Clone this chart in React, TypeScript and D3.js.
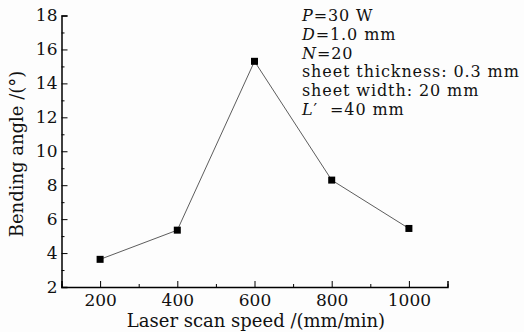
import React, { useEffect, useRef } from "react";
import * as d3 from "d3";

const speeds = [200, 400, 600, 800, 1000];
const angles = [3.63, 5.35, 15.3, 8.3, 5.45];
const xTicks = [200, 400, 600, 800, 1000];
const yTicks = [2, 4, 6, 8, 10, 12, 14, 16, 18];
const notes = [
  { it: "P", rest: "=30 W" },
  { it: "D", rest: "=1.0 mm" },
  { it: "N", rest: "=20" },
  { it: "", rest: "sheet thickness: 0.3 mm" },
  { it: "", rest: "sheet width: 20 mm" },
  { it: "L", rest: "\u2032\u00a0\u00a0=40 mm" },
];

const width = 524;
const height = 332;
const font = "'DejaVu Serif', serif";

export default function App() {
  const gx = useRef<SVGGElement>(null);
  const gy = useRef<SVGGElement>(null);

  const x = d3.scaleLinear([100, 1100], [61.5, 447.5]);
  const y = d3.scaleLinear([2, 18], [287, 15.5]);

  useEffect(() => {
    const ax = d3.select(gx.current);
    ax.selectAll("*").remove();
    ax.call(
      d3.axisBottom(x).tickValues(d3.range(100, 1101, 100)).tickSize(-6).tickPadding(7)
        .tickFormat((d: any) => (xTicks.includes(d) ? String(d) : ""))
    );
    ax.selectAll(".tick line").attr("y2", (d: any) => (xTicks.includes(d) ? -6 : -3));
    ax.select(".domain").attr("stroke-width", 1.5);
    ax.selectAll("text").attr("font-family", font).attr("font-size", 17).attr("fill", "#111");

    const ay = d3.select(gy.current);
    ay.selectAll("*").remove();
    ay.call(
      d3.axisLeft(y).tickValues(d3.range(2, 18.1, 1)).tickSize(-6).tickPadding(4)
        .tickFormat((d: any) => (yTicks.includes(d) ? String(d) : ""))
    );
    ay.selectAll(".tick line").attr("x2", (d: any) => (yTicks.includes(d) ? 6 : 3));
    ay.select(".domain").attr("stroke-width", 1.5);
    ay.selectAll("text").attr("font-family", font).attr("font-size", 17).attr("fill", "#111");
  }, []);

  const line = d3
    .line<number>()
    .x((_, i) => x(speeds[i]))
    .y((d) => y(d));

  return (
    <svg
      width={width}
      height={height}
      style={{ position: "absolute", top: 0, left: 0, background: "#fdfdfd" }}
    >
      <g ref={gx} transform={`translate(0,${y(2)})`} />
      <g ref={gy} transform={`translate(${x(100)},0)`} />
      <path d={line(angles) || ""} fill="none" stroke="#333" strokeWidth={0.8} />
      {angles.map((d, i) => (
        <rect key={i} x={x(speeds[i]) - 3.5} y={y(d) - 3.5} width={7} height={7} fill="#000" />
      ))}
      <text
        x={256}
        y={327}
        textAnchor="middle"
        fontFamily={font}
        fontSize={18}
        fill="#111"
      >
        Laser scan speed /(mm/min)
      </text>
      <text
        transform={`translate(23,154) rotate(-90)`}
        textAnchor="middle"
        fontFamily={font}
        fontSize={18}
        fill="#111"
      >
        Bending angle /(°)
      </text>
      {/* parameter notes, upper right */}
      {notes.map((n, i) => (
        <text
          key={i}
          x={302}
          y={21 + i * 18.8}
          fontFamily={font}
          fontSize={16}
          letterSpacing={0.9}
          fill="#111"
        >
          {n.it && <tspan fontStyle="italic">{n.it}</tspan>}
          {n.rest}
        </text>
      ))}
    </svg>
  );
}
